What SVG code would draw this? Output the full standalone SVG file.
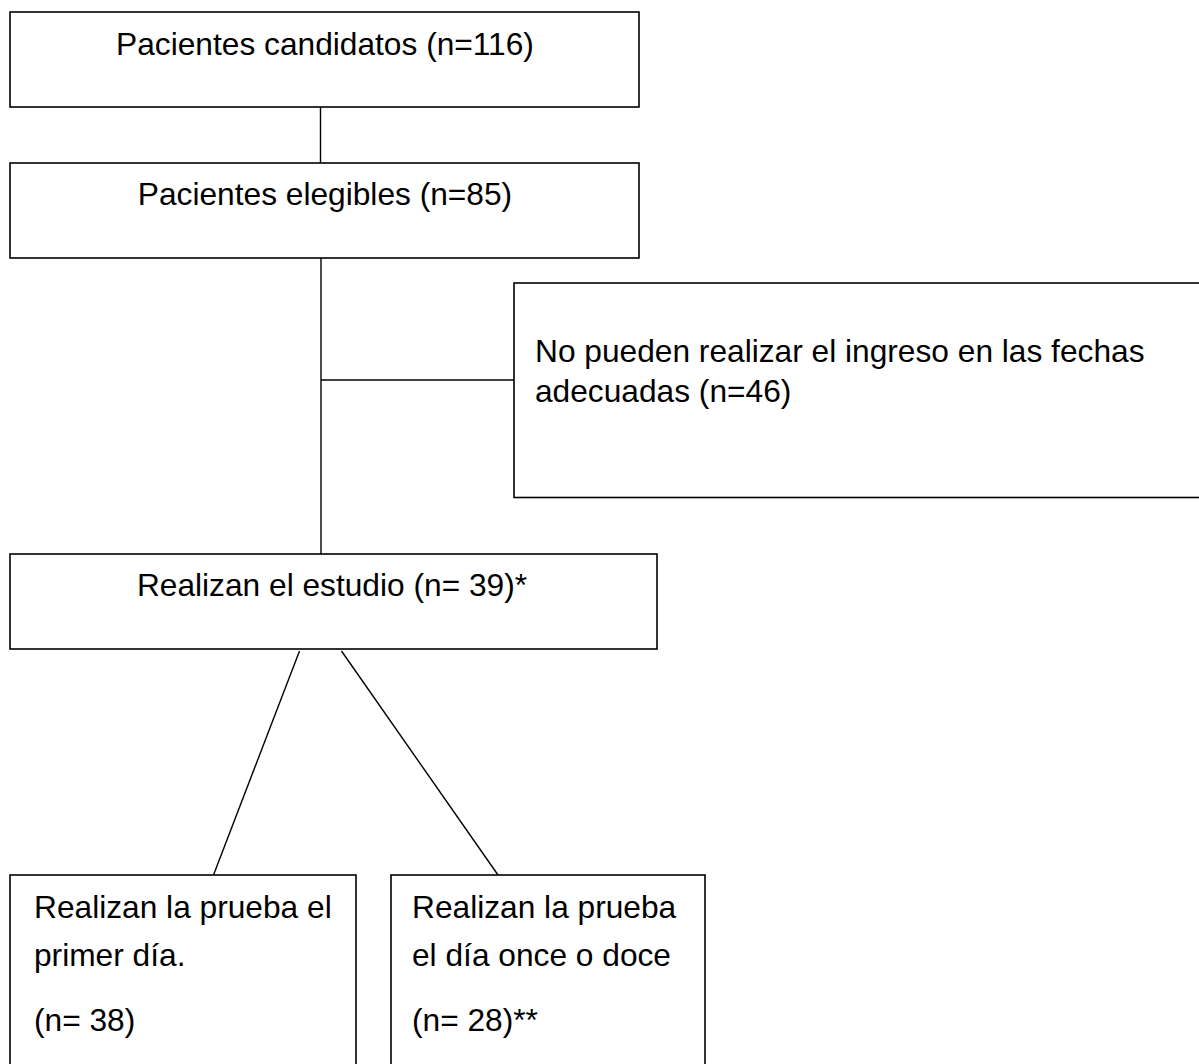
<svg xmlns="http://www.w3.org/2000/svg" width="1199" height="1064" viewBox="0 0 1199 1064">
<style>
.box{fill:#fff;stroke:#000;stroke-width:1.6}
.ln{fill:none;stroke:#000;stroke-width:1.4}
text{font-family:"Liberation Sans",Arial,sans-serif;font-size:31.7px;fill:#000}
.c{text-anchor:middle}
</style>
<rect width="1199" height="1064" fill="#fff"/>
<g id="connectors">
<line class="ln" x1="320.5" y1="107" x2="320.5" y2="163"/>
<line class="ln" x1="321" y1="258" x2="321" y2="554"/>
<line class="ln" x1="321" y1="380" x2="514" y2="380"/>
<line class="ln" x1="299.5" y1="651" x2="213.5" y2="875"/>
<line class="ln" x1="341.5" y1="651" x2="498" y2="875"/>
</g>
<g id="candidatos">
<rect class="box" x="10" y="12" width="629" height="95"/>
<text class="c" x="325" y="55">Pacientes candidatos (n=116)</text>
</g>
<g id="elegibles">
<rect class="box" x="10" y="163" width="629" height="95"/>
<text class="c" x="325" y="205">Pacientes elegibles (n=85)</text>
</g>
<g id="excluidos">
<rect class="box" x="514" y="283" width="700" height="214.5"/>
<text x="535" y="362">No pueden realizar el ingreso en las fechas</text>
<text x="535" y="402">adecuadas (n=46)</text>
</g>
<g id="estudio">
<rect class="box" x="10" y="554" width="647" height="95"/>
<text class="c" x="332" y="596">Realizan el estudio (n= 39)*</text>
</g>
<g id="primer-dia">
<rect class="box" x="10" y="875" width="346" height="220"/>
<text x="34" y="918">Realizan la prueba el</text>
<text x="34" y="966">primer día.</text>
<text x="34" y="1031">(n= 38)</text>
</g>
<g id="dia-once">
<rect class="box" x="391" y="875" width="314" height="220"/>
<text x="412" y="918">Realizan la prueba</text>
<text x="412" y="966">el día once o doce</text>
<text x="412" y="1031">(n= 28)**</text>
</g>
</svg>
